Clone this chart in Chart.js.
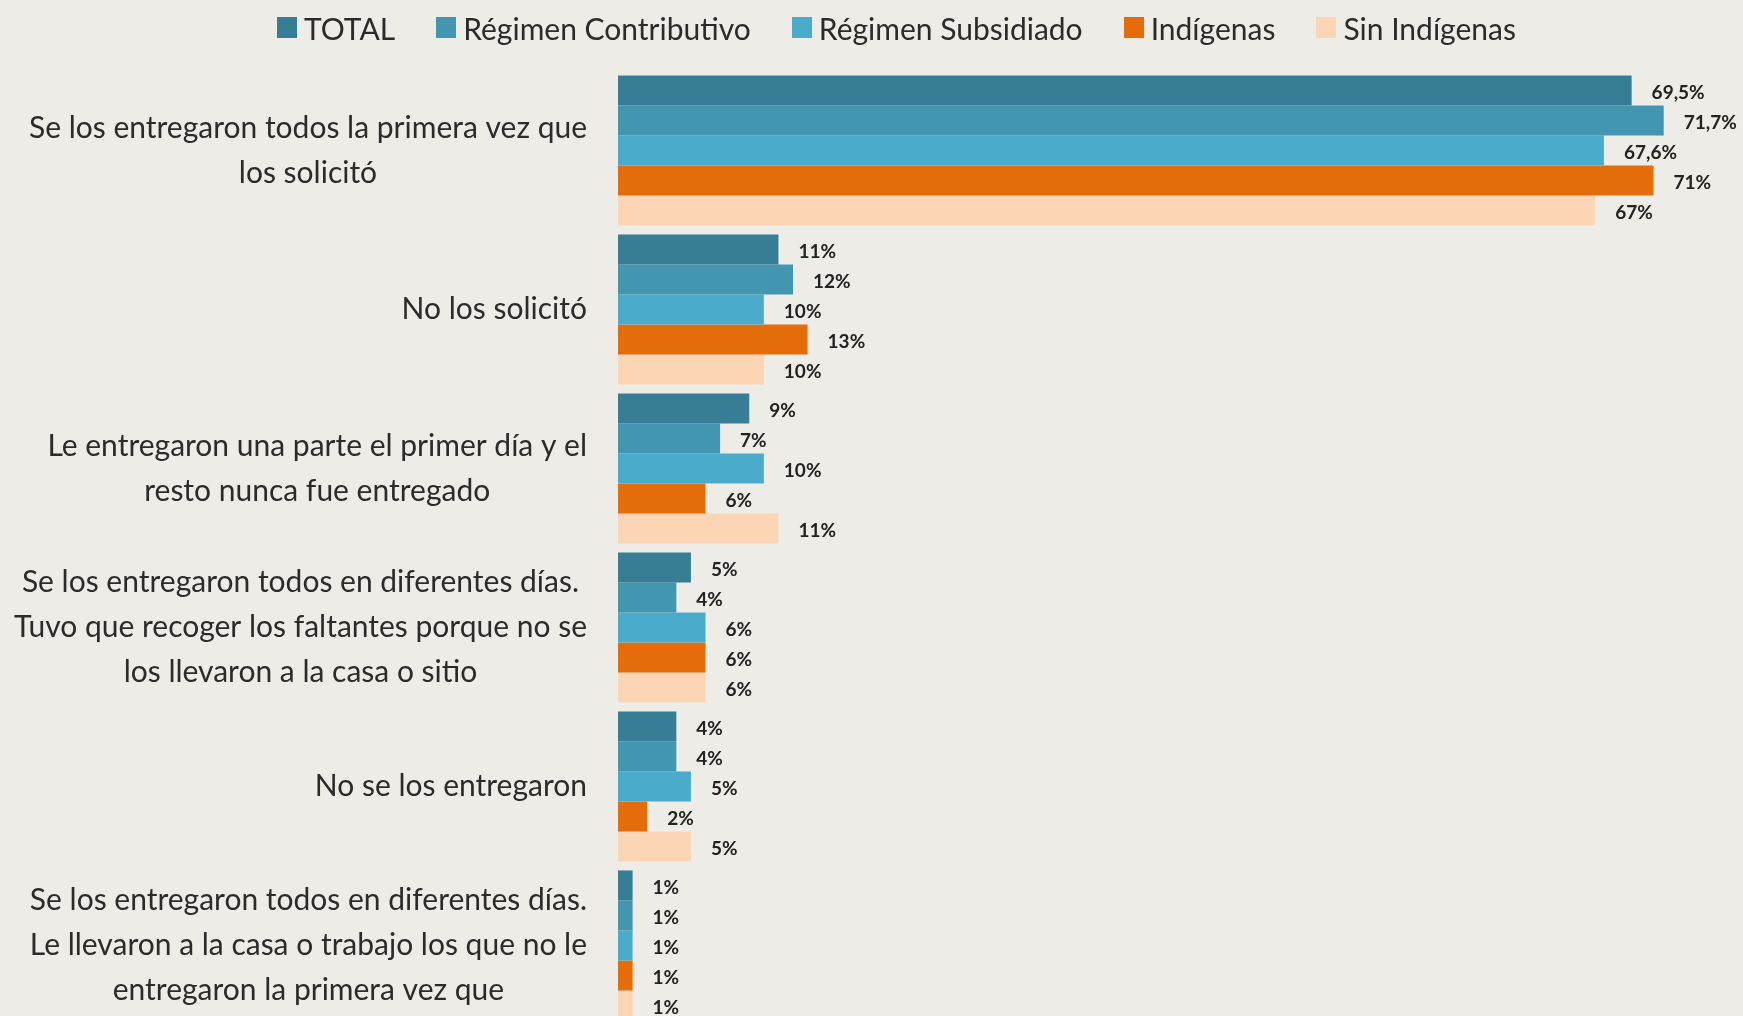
<!DOCTYPE html>
<html>
<head>
<meta charset="utf-8">
<script src="https://cdn.jsdelivr.net/npm/chart.js@4.4.0/dist/chart.umd.min.js"></script>
<style>
  html, body { margin: 0; padding: 0; background: #eeece6; overflow: hidden; }
  #wrap { position: relative; width: 1743px; height: 1030px; }
  #legend {
    position: absolute; top: 0; left: 0; width: 1743px; height: 55px;
    box-sizing: border-box; padding-left: 50px;
    display: flex; align-items: center; justify-content: center; gap: 41px;
    font: 30px Lato, sans-serif; color: #2b2b2b;
  }
  #legend .item { display: flex; align-items: center; }
  #legend .sw { width: 20px; height: 21px; margin-right: 7px; }
</style>
</head>
<body>
<div id="wrap">
  <canvas id="myChart"></canvas>
  <div id="legend"></div>
</div>
<script>
var categories = [
  ["Se los entregaron todos la primera vez que", "los solicitó"],
  ["No los solicitó"],
  ["Le entregaron una parte el primer día y el", "resto nunca fue entregado"],
  ["Se los entregaron todos en diferentes días.", "Tuvo que recoger los faltantes porque no se", "los llevaron a la casa o sitio"],
  ["No se los entregaron"],
  ["Se los entregaron todos en diferentes días.", "Le llevaron a la casa o trabajo los que no le", "entregaron la primera vez que"]
];
var seriesNames = ["TOTAL", "Régimen Contributivo", "Régimen Subsidiado", "Indígenas", "Sin Indígenas"];
var total        = [69.5, 11, 9, 5, 4, 1];
var contributivo = [71.7, 12, 7, 4, 4, 1];
var subsidiado   = [67.6, 10, 10, 6, 5, 1];
var indigenas    = [71, 13, 6, 6, 2, 1];
var sinIndigenas = [67, 10, 11, 6, 5, 1];
var colors = ["#367d95", "#4296b0", "#4aabcb", "#e46c0a", "#fcd5b5"];

Chart.defaults.font.family = "Lato, sans-serif";

function pct(v) {
  return String(v).replace(".", ",") + "%";
}

// value labels just past the end of each bar
var barValues = {
  id: "barValues",
  afterDatasetsDraw: function(chart) {
    var ctx = chart.ctx;
    ctx.save();
    ctx.font = "bold 19px Lato, sans-serif";
    ctx.fillStyle = "#222";
    ctx.textAlign = "left";
    ctx.textBaseline = "middle";
    chart.data.datasets.forEach(function(ds, i) {
      chart.getDatasetMeta(i).data.forEach(function(bar, j) {
        ctx.fillText(pct(ds.data[j]), bar.x + 20, bar.y + 2);
      });
    });
    ctx.restore();
  }
};

// category labels: block right-aligned against the bars, lines centred inside it
var categoryLabels = {
  id: "categoryLabels",
  afterDraw: function(chart) {
    var ctx = chart.ctx;
    var yScale = chart.scales.y;
    var right = chart.chartArea.left - 31;
    var lineH = 45;
    ctx.save();
    ctx.font = "30px Lato, sans-serif";
    ctx.fillStyle = "#2b2b2b";
    ctx.textAlign = "center";
    ctx.textBaseline = "middle";
    chart.data.labels.forEach(function(lines, i) {
      var y = yScale.getPixelForValue(i);
      var w = 0;
      lines.forEach(function(l) { w = Math.max(w, ctx.measureText(l).width); });
      var cx = right - w / 2;
      lines.forEach(function(l, k) {
        ctx.fillText(l, cx, y + (k - (lines.length - 1) / 2) * lineH);
      });
    });
    ctx.restore();
  }
};

var seriesData = [total, contributivo, subsidiado, indigenas, sinIndigenas];

var chart = new Chart(document.getElementById("myChart").getContext("2d"), {
  type: "bar",
  data: {
    labels: categories,
    datasets: seriesData.map(function(d, i) {
      return {
        label: seriesNames[i],
        data: d,
        backgroundColor: colors[i],
        borderWidth: 0,
        barPercentage: 1,
        categoryPercentage: 0.944
      };
    })
  },
  options: {
    indexAxis: "y",
    responsive: true,
    maintainAspectRatio: false,
    animation: false,
    layout: { padding: { left: 618, top: 71, right: 2, bottom: 5 } },
    plugins: {
      legend: { display: false },
      tooltip: { enabled: false }
    },
    scales: {
      x: { display: false, min: 0, max: 77 },
      y: { display: false }
    }
  },
  plugins: [barValues, categoryLabels]
});

var legend = document.getElementById("legend");
chart.data.datasets.forEach(function(ds) {
  var item = document.createElement("span");
  item.className = "item";
  var sw = document.createElement("span");
  sw.className = "sw";
  sw.style.background = ds.backgroundColor;
  item.appendChild(sw);
  item.appendChild(document.createTextNode(ds.label));
  legend.appendChild(item);
});
</script>
</body>
</html>
